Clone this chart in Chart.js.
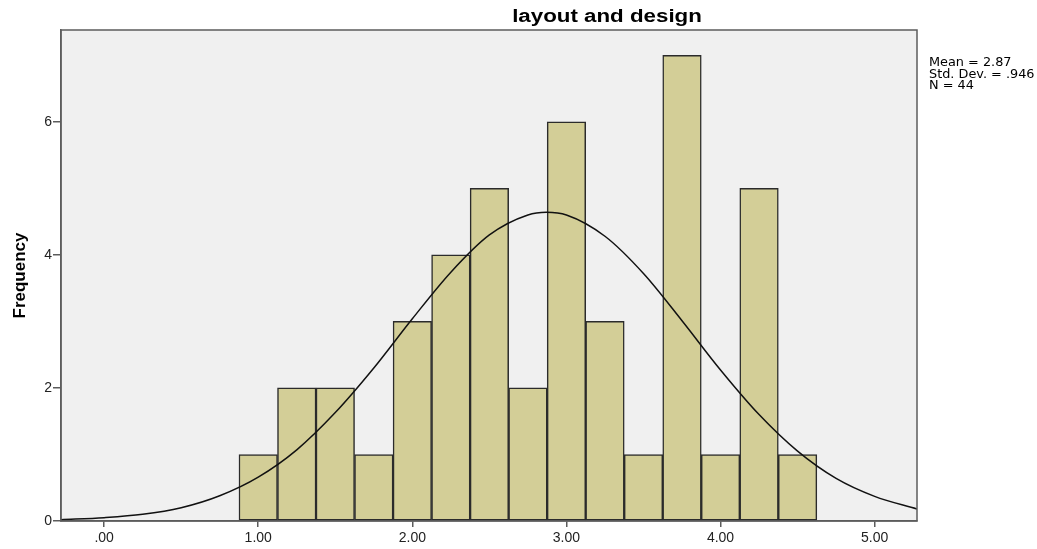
<!DOCTYPE html>
<html>
<head>
<meta charset="utf-8">
<title>layout and design</title>
<script src="https://cdn.jsdelivr.net/npm/chart.js@4.4.1/dist/chart.umd.min.js"></script>
<style>
  html, body { margin: 0; padding: 0; background: #fff; }
  #wrap { width: 1037px; height: 549px; }
</style>
</head>
<body>
<div id="wrap"><canvas id="hist" width="1037" height="549"></canvas></div>
<script>
  // ── Data ────────────────────────────────────────────────────────────
  const TITLE = 'layout and design';
  const Y_TITLE = 'Frequency';
  const STATS_LINES = ['Mean = 2.87', 'Std. Dev. = .946', 'N = 44'];

  // histogram bins (width .25), centres and counts
  const BIN_CENTERS = [1.00, 1.25, 1.50, 1.75, 2.00, 2.25, 2.50, 2.75, 3.00, 3.25, 3.50, 3.75, 4.00, 4.25, 4.50];
  const COUNTS      = [1,    2,    2,    1,    3,    4,    5,    2,    6,    3,    1,    7,    1,    5,    1];

  // fitted normal curve
  const CURVE_X = [-0.28, 0.00, 0.25, 0.50, 0.75, 1.00, 1.25, 1.50, 1.75, 2.00, 2.25, 2.50, 2.75, 2.87,
                   3.00, 3.25, 3.50, 3.75, 4.00, 4.25, 4.50, 4.75, 5.00, 5.275];
  const CURVE_Y = [0.02, 0.05, 0.10, 0.20, 0.38, 0.66, 1.07, 1.63, 2.30, 3.04, 3.74, 4.30, 4.60, 4.64,
                   4.60, 4.28, 3.72, 3.01, 2.27, 1.60, 1.05, 0.64, 0.37, 0.18];

  const X_TICKS = [0, 1, 2, 3, 4, 5];
  const X_TICK_LABELS = ['.00', '1.00', '2.00', '3.00', '4.00', '5.00'];
  const Y_TICKS = [0, 2, 4, 6];
  const Y_TICK_LABELS = ['0', '2', '4', '6'];

  // ── Look ────────────────────────────────────────────────────────────
  const FONT = '"Liberation Sans", Arial, sans-serif';
  const STATS_FONT = '12px "DejaVu Sans", sans-serif';
  const PLOT_BG = '#f0f0f0';
  const FRAME = '#5c5c5c';
  const BAR_FILL = '#d3ce97';
  const BAR_EDGE = '#2b2b2b';

  // draws text stretched horizontally (SPSS output is stretched)
  function drawText(ctx, txt, x, y, font, sx, align) {
    ctx.save();
    ctx.font = font;
    ctx.fillStyle = '#000';
    ctx.textBaseline = 'alphabetic';
    const w = ctx.measureText(txt).width * sx;
    let left = x;
    if (align === 'center') left = x - w / 2;
    ctx.translate(left, y);
    ctx.scale(sx, 1);
    ctx.textAlign = 'left';
    ctx.fillText(txt, 0, 0);
    ctx.restore();
  }

  const spssFrame = {
    id: 'spssFrame',
    beforeDraw(chart) {
      const { ctx, chartArea: a } = chart;
      ctx.save();
      ctx.fillStyle = PLOT_BG;
      ctx.fillRect(a.left, a.top, a.right - a.left, a.bottom - a.top);
      ctx.restore();
    },
    afterDatasetsDraw(chart) {
      const { ctx, chartArea: a } = chart;
      ctx.save();
      ctx.strokeStyle = FRAME;
      ctx.lineWidth = 1.5;
      ctx.strokeRect(a.left, a.top, a.right - a.left, a.bottom - a.top);
      ctx.restore();
    },
    afterDraw(chart) {
      const { ctx } = chart;
      drawText(ctx, TITLE, 607, 22, 'bold 18px ' + FONT, 1.24, 'center');
      STATS_LINES.forEach((s, i) => {
        drawText(ctx, s, 929, 66 + i * 11.5, STATS_FONT, 1.07, 'left');
      });
    }
  };

  const ctx = document.getElementById('hist').getContext('2d');
  new Chart(ctx, {
    type: 'bar',
    data: {
      datasets: [
        {
          type: 'line',
          label: 'Normal',
          data: CURVE_X.map((x, i) => ({ x, y: CURVE_Y[i] })),
          borderColor: '#111',
          borderWidth: 1.5,
          pointRadius: 0,
          cubicInterpolationMode: 'monotone',
          fill: false,
          order: 0,
        },
        {
          label: 'Frequency',
          data: BIN_CENTERS.map((x, i) => ({ x, y: COUNTS[i] })),
          backgroundColor: BAR_FILL,
          borderColor: BAR_EDGE,
          borderWidth: 1.5,
          borderSkipped: false,
          barPercentage: 1,
          categoryPercentage: 1,
          order: 1,
        },
      ]
    },
    options: {
      responsive: false,
      animation: false,
      devicePixelRatio: 1,
      layout: { padding: { top: 30, right: 120, left: 0, bottom: 0 } },
      scales: {
        x: {
          type: 'linear',
          min: -0.28, max: 5.275,
          offset: false,
          afterFit: s => { s.height = 28; },
          afterBuildTicks: s => { s.ticks = X_TICKS.map(v => ({ value: v })); },
          grid: { display: true, drawOnChartArea: false, offset: false, tickLength: 6, color: FRAME, lineWidth: 1.5 },
          border: { display: true, color: FRAME, width: 1.5 },
          ticks: {
            color: '#222', padding: 3, maxRotation: 0, autoSkip: false,
            font: { family: FONT, size: 14 },
            callback: (v, i) => X_TICK_LABELS[i],
          },
        },
        y: {
          min: 0, max: 7.38,
          afterFit: s => { s.width = 61; },
          afterBuildTicks: s => { s.ticks = Y_TICKS.map(v => ({ value: v })); },
          grid: { display: true, drawOnChartArea: false, tickLength: 8, color: FRAME, lineWidth: 1.5 },
          border: { display: true, color: FRAME, width: 1.5 },
          ticks: {
            color: '#222', padding: 1,
            font: { family: FONT, size: 14 },
            callback: (v, i) => Y_TICK_LABELS[i],
          },
          title: {
            display: true, text: Y_TITLE, color: '#000',
            font: { family: FONT, size: 17, weight: 'bold' },
            padding: { top: 10, bottom: 0 },
          },
        },
      },
      plugins: {
        legend: { display: false },
        tooltip: { enabled: false },
        title: { display: false },
      }
    },
    plugins: [spssFrame]
  });
</script>
</body>
</html>
